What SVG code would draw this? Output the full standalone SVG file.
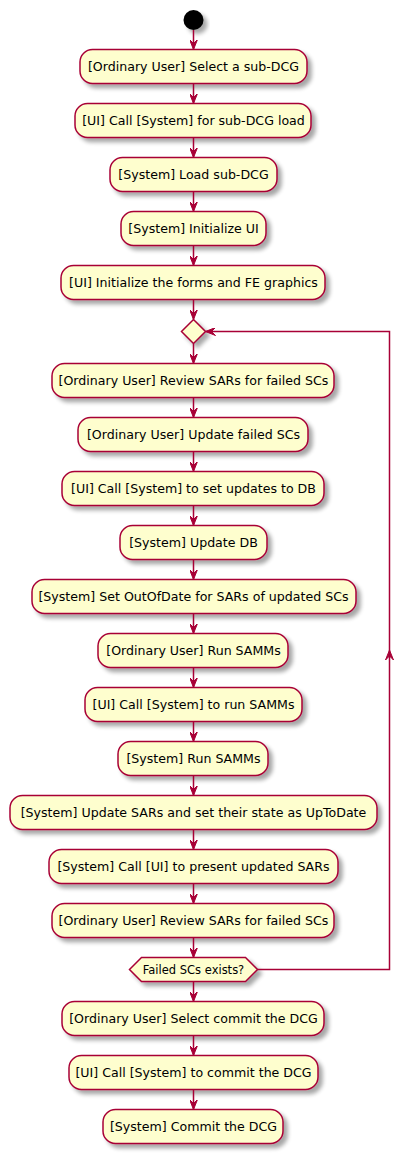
<svg xmlns="http://www.w3.org/2000/svg" width="414" height="1153" viewBox="0 0 414 1153">
<defs>
<filter id="sh" x="-20%" y="-50%" width="150%" height="250%">
<feGaussianBlur in="SourceAlpha" stdDeviation="2"/>
<feOffset dx="4" dy="4" result="b"/>
<feComponentTransfer><feFuncA type="linear" slope="0.35"/></feComponentTransfer>
<feMerge><feMergeNode/><feMergeNode in="SourceGraphic"/></feMerge>
</filter>
<marker id="ah" viewBox="0 0 10 8" refX="10" refY="4" markerWidth="10" markerHeight="8" markerUnits="userSpaceOnUse" orient="auto">
<path d="M0,0 L10,4 L0,8 L4,4 Z" fill="#A80036" stroke="#A80036" stroke-width="1"/>
</marker>
</defs>
<style>
.box{fill:#FEFECE;stroke:#A80036;stroke-width:1.5;filter:url(#sh)}
.t{font-family:"DejaVu Sans",sans-serif;font-size:12.6px;fill:#000;text-anchor:middle}
.t2{font-family:"DejaVu Sans",sans-serif;font-size:11.5px;fill:#000;text-anchor:middle}
.c{fill:none;stroke:#A80036;stroke-width:1.5}
</style>
<rect width="414" height="1153" fill="#FFFFFF"/>
<g id="start"><circle cx="193.5" cy="20" r="10" fill="#000" filter="url(#sh)"/></g>
<g id="n1"><rect class="box" x="80" y="49.5" width="227" height="34" rx="12.5"/><text class="t" x="193.5" y="71">[Ordinary User] Select a sub-DCG</text></g>
<g id="n2"><rect class="box" x="75" y="103.5" width="236" height="34" rx="12.5"/><text class="t" x="193.5" y="125">[UI] Call [System] for sub-DCG load</text></g>
<g id="n3"><rect class="box" x="110" y="157.5" width="167" height="34" rx="12.5"/><text class="t" x="193.5" y="179">[System] Load sub-DCG</text></g>
<g id="n4"><rect class="box" x="121" y="211.5" width="145" height="34" rx="12.5"/><text class="t" x="193.5" y="233">[System] Initialize UI</text></g>
<g id="n5"><rect class="box" x="61" y="265.5" width="264" height="34" rx="12.5"/><text class="t" x="193.5" y="287">[UI] Initialize the forms and FE graphics</text></g>
<g id="merge"><polygon class="box" points="193.5,319.5 205.5,331.5 193.5,343.5 181.5,331.5"/></g>
<g id="n6"><rect class="box" x="52" y="363.5" width="282" height="34" rx="12.5"/><text class="t" x="193.5" y="385">[Ordinary User] Review SARs for failed SCs</text></g>
<g id="n7"><rect class="box" x="78" y="417.5" width="230" height="34" rx="12.5"/><text class="t" x="193.5" y="439">[Ordinary User] Update failed SCs</text></g>
<g id="n8"><rect class="box" x="62" y="471.5" width="262" height="34" rx="12.5"/><text class="t" x="193.5" y="493">[UI] Call [System] to set updates to DB</text></g>
<g id="n9"><rect class="box" x="120" y="525.5" width="147" height="34" rx="12.5"/><text class="t" x="193.5" y="547">[System] Update DB</text></g>
<g id="n10"><rect class="box" x="32" y="579.5" width="324" height="34" rx="12.5"/><text class="t" x="193.5" y="601">[System] Set OutOfDate for SARs of updated SCs</text></g>
<g id="n11"><rect class="box" x="98" y="633.5" width="190" height="34" rx="12.5"/><text class="t" x="193.5" y="655">[Ordinary User] Run SAMMs</text></g>
<g id="n12"><rect class="box" x="85" y="687.5" width="217" height="34" rx="12.5"/><text class="t" x="193.5" y="709">[UI] Call [System] to run SAMMs</text></g>
<g id="n13"><rect class="box" x="118" y="741.5" width="150" height="34" rx="12.5"/><text class="t" x="193.5" y="763">[System] Run SAMMs</text></g>
<g id="n14"><rect class="box" x="10" y="795.5" width="367" height="34" rx="12.5"/><text class="t" x="193.5" y="817">[System] Update SARs and set their state as UpToDate</text></g>
<g id="n15"><rect class="box" x="49" y="849.5" width="289" height="34" rx="12.5"/><text class="t" x="193.5" y="871">[System] Call [UI] to present updated SARs</text></g>
<g id="n16"><rect class="box" x="52" y="903.5" width="282" height="34" rx="12.5"/><text class="t" x="193.5" y="925">[Ordinary User] Review SARs for failed SCs</text></g>
<g id="decision"><polygon class="box" points="129.5,969.5 141.5,957.5 245.5,957.5 257.5,969.5 245.5,981.5 141.5,981.5"/><text class="t2" x="193.5" y="973.5">Failed SCs exists?</text></g>
<g id="n17"><rect class="box" x="62" y="1001.5" width="262" height="34" rx="12.5"/><text class="t" x="193.5" y="1023">[Ordinary User] Select commit the DCG</text></g>
<g id="n18"><rect class="box" x="69" y="1055.5" width="249" height="34" rx="12.5"/><text class="t" x="193.5" y="1077">[UI] Call [System] to commit the DCG</text></g>
<g id="n19"><rect class="box" x="103" y="1109.5" width="180" height="34" rx="12.5"/><text class="t" x="193.5" y="1131">[System] Commit the DCG</text></g>
<g id="connectors">
<line class="c" x1="193.5" y1="30" x2="193.5" y2="49.5" marker-end="url(#ah)"/>
<line class="c" x1="193.5" y1="83.5" x2="193.5" y2="103.5" marker-end="url(#ah)"/>
<line class="c" x1="193.5" y1="137.5" x2="193.5" y2="157.5" marker-end="url(#ah)"/>
<line class="c" x1="193.5" y1="191.5" x2="193.5" y2="211.5" marker-end="url(#ah)"/>
<line class="c" x1="193.5" y1="245.5" x2="193.5" y2="265.5" marker-end="url(#ah)"/>
<line class="c" x1="193.5" y1="299.5" x2="193.5" y2="319.5" marker-end="url(#ah)"/>
<line class="c" x1="193.5" y1="343.5" x2="193.5" y2="363.5" marker-end="url(#ah)"/>
<line class="c" x1="193.5" y1="397.5" x2="193.5" y2="417.5" marker-end="url(#ah)"/>
<line class="c" x1="193.5" y1="451.5" x2="193.5" y2="471.5" marker-end="url(#ah)"/>
<line class="c" x1="193.5" y1="505.5" x2="193.5" y2="525.5" marker-end="url(#ah)"/>
<line class="c" x1="193.5" y1="559.5" x2="193.5" y2="579.5" marker-end="url(#ah)"/>
<line class="c" x1="193.5" y1="613.5" x2="193.5" y2="633.5" marker-end="url(#ah)"/>
<line class="c" x1="193.5" y1="667.5" x2="193.5" y2="687.5" marker-end="url(#ah)"/>
<line class="c" x1="193.5" y1="721.5" x2="193.5" y2="741.5" marker-end="url(#ah)"/>
<line class="c" x1="193.5" y1="775.5" x2="193.5" y2="795.5" marker-end="url(#ah)"/>
<line class="c" x1="193.5" y1="829.5" x2="193.5" y2="849.5" marker-end="url(#ah)"/>
<line class="c" x1="193.5" y1="883.5" x2="193.5" y2="903.5" marker-end="url(#ah)"/>
<line class="c" x1="193.5" y1="937.5" x2="193.5" y2="957.5" marker-end="url(#ah)"/>
<line class="c" x1="193.5" y1="981.5" x2="193.5" y2="1001.5" marker-end="url(#ah)"/>
<line class="c" x1="193.5" y1="1035.5" x2="193.5" y2="1055.5" marker-end="url(#ah)"/>
<line class="c" x1="193.5" y1="1089.5" x2="193.5" y2="1109.5" marker-end="url(#ah)"/>
<polyline class="c" points="257.5,969.5 389.5,969.5 389.5,331.5 205.5,331.5" marker-end="url(#ah)"/>
<polygon points="389.5,650 385.5,660 389.5,656 393.5,660" fill="#A80036" stroke="#A80036" stroke-width="1"/>
</g>
</svg>
